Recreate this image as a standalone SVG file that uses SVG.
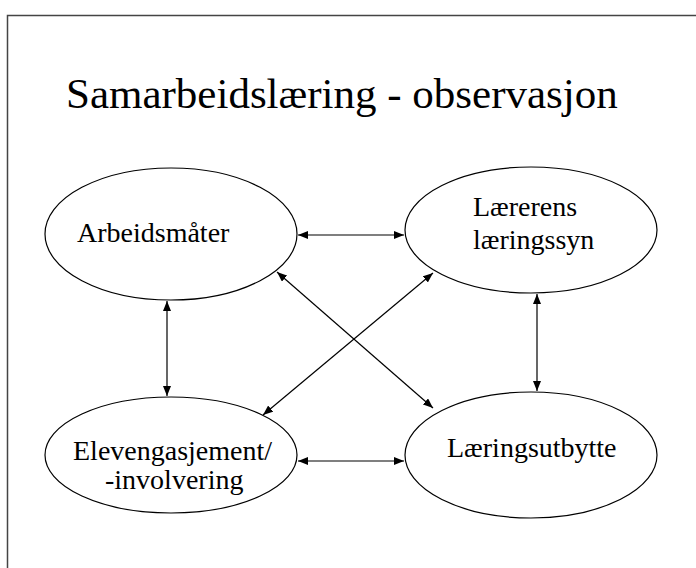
<svg xmlns="http://www.w3.org/2000/svg" width="696" height="568" viewBox="0 0 696 568">
<defs>
<style>
.node ellipse{fill:#fff;stroke:#000;stroke-width:1.2}
.node text,.title{font-family:"Liberation Serif","Times New Roman",serif;fill:#000}
.node text{font-size:28px}
.title{font-size:43px}
.edges line{stroke:#000;stroke-width:1.2;marker-start:url(#ah);marker-end:url(#ah)}
</style>
<marker id="ah" viewBox="0 0 10 8" refX="10" refY="4" markerWidth="10" markerHeight="8" markerUnits="userSpaceOnUse" orient="auto-start-reverse">
<path d="M0,0 L10,4 L0,8 Z" fill="#000"/>
</marker>
</defs>
<rect x="0" y="0" width="696" height="568" fill="#fff"/>
<g id="frame" fill="none" stroke="#444" stroke-width="1.5">
<path d="M7.5,568 V15.5 H696"/>
</g>
<text class="title" x="66" y="108">Samarbeidslæring - observasjon</text>
<g id="n-arbeidsmater" class="node">
<ellipse cx="171" cy="234" rx="126" ry="66"/>
<text x="77" y="242">Arbeidsmåter</text>
</g>
<g id="n-laererens" class="node">
<ellipse cx="531" cy="230" rx="126" ry="63"/>
<text x="473" y="216">Lærerens</text>
<text x="473" y="249">læringssyn</text>
</g>
<g id="n-elev" class="node">
<ellipse cx="171" cy="455" rx="126" ry="58"/>
<text x="73" y="460">Elevengasjement/</text>
<text x="105" y="489">-involvering</text>
</g>
<g id="n-laeringsutbytte" class="node">
<ellipse cx="531" cy="455" rx="126" ry="63"/>
<text x="447" y="457">Læringsutbytte</text>
</g>
<g class="edges" id="connectors">
<line x1="298" y1="235" x2="404" y2="235"/>
<line x1="298" y1="461" x2="404" y2="461"/>
<line x1="167" y1="301" x2="167" y2="396"/>
<line x1="537" y1="294" x2="537" y2="391"/>
<line x1="277" y1="272" x2="433" y2="408"/>
<line x1="433" y1="273" x2="263" y2="415"/>
</g>
</svg>
